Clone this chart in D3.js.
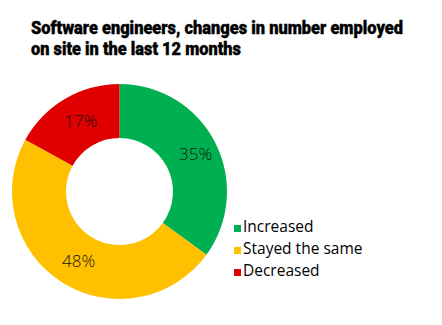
<!DOCTYPE html>
<html>
<head>
<meta charset="utf-8">
<script src="https://cdn.jsdelivr.net/npm/d3@7"></script>
<style>
  html, body { margin: 0; padding: 0; background: #fff; }
  svg { display: block; }
</style>
</head>
<body>
<svg id="chart" width="442" height="325"></svg>
<script>
// data
const categories = ['Increased', 'Stayed the same', 'Decreased'];
const values = [35, 48, 17];
const colors = ['#00B050', '#FFC000', '#E00000'];
const titleLines = ['Software engineers, changes in number employed', 'on site in the last 12 months'];

const svg = d3.select('#chart');

// title (condensed bold)
const titleWidths = [372, 210];
svg.selectAll('text.title')
  .data(titleLines)
  .join('text')
    .attr('class', 'title')
    .attr('x', 31)
    .attr('y', (d, i) => 34 + i * 21)
    .attr('textLength', (d, i) => titleWidths[i])
    .attr('lengthAdjust', 'spacingAndGlyphs')
    .style('font-family', '"Liberation Sans Narrow", "Roboto", sans-serif')
    .style('font-weight', 900)
    .style('font-size', '17.5px')
    .style('fill', '#000')
    .style('stroke', '#000')
    .style('stroke-width', 0.4)
    .text(d => d);

// donut
const cx = 119.5, cy = 191.5;
const outerR = 107.5, innerR = 53.5;

const pie = d3.pie().sort(null).value(d => d);
const arc = d3.arc().innerRadius(innerR).outerRadius(outerR);
const labelArc = d3.arc().innerRadius(82).outerRadius(82);

const g = svg.append('g').attr('transform', `translate(${cx},${cy})`);
const arcs = pie(values);

g.selectAll('path')
  .data(arcs)
  .join('path')
    .attr('d', arc)
    .attr('fill', (d, i) => colors[i]);

g.selectAll('text.pct')
  .data(arcs)
  .join('text')
    .attr('class', 'pct')
    .attr('transform', d => {
      const [x, y] = labelArc.centroid(d);
      return `translate(${x + 3},${y})`;
    })
    .attr('text-anchor', 'middle')
    .attr('dy', '0.36em')
    .style('font-family', '"Open Sans", "Noto Sans", sans-serif')
    .style('font-weight', 300)
    .style('font-size', '17px')
    .style('fill', '#111')
    .text(d => d.data + '%');

// legend
const legend = svg.append('g').attr('transform', 'translate(234,0)');
const rows = legend.selectAll('g')
  .data(categories)
  .join('g')
    .attr('transform', (d, i) => `translate(0,${232 + i * 22})`);

rows.append('rect')
  .attr('x', 0)
  .attr('y', -7)
  .attr('width', 7)
  .attr('height', 7)
  .attr('fill', (d, i) => colors[i]);

rows.append('text')
  .attr('x', 9)
  .attr('y', 0)
  .style('font-family', '"Open Sans", "Noto Sans", sans-serif')
  .style('font-size', '15.5px')
  .style('fill', '#000')
  .text(d => d);
</script>
</body>
</html>
